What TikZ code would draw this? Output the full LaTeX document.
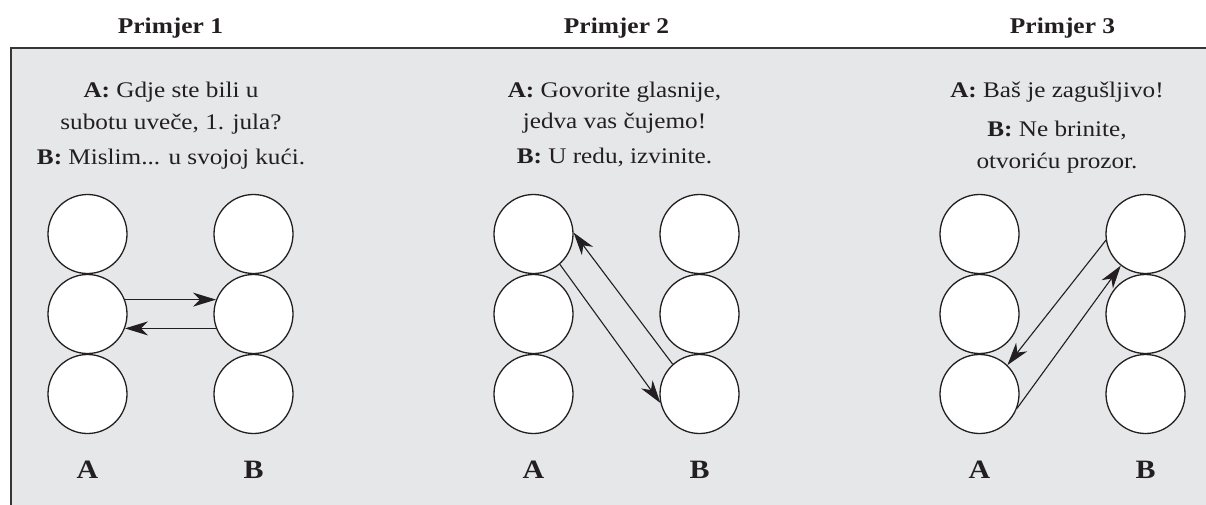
\documentclass[tikz,border=0pt]{standalone}
\usepackage{fontspec}
\setmainfont[FakeStretch=1.13]{Liberation Serif}
\usetikzlibrary{arrows.meta}
\definecolor{boxgray}{HTML}{E6E7E9}
\definecolor{ink}{HTML}{231F20}
\begin{document}
\begin{tikzpicture}[x=1pt,y=-1pt,
  ball/.style={circle,draw=ink,line width=1.3pt,fill=white,minimum size=79pt,inner sep=0pt},
  say/.style={anchor=base,inner sep=0pt,text=ink,font=\fontsize{22.3}{27}\selectfont},
  ttl/.style={anchor=base,inner sep=0pt,text=ink,font=\fontsize{22.5}{26}\selectfont\bfseries},
  lbl/.style={anchor=base,inner sep=0pt,text=ink,font=\fontsize{26.5}{30}\selectfont\bfseries},
  arr/.style={draw=ink,line width=1.1pt,-{Stealth[length=23pt,width=14pt,inset=7pt]}}]
\useasboundingbox (0,0) rectangle (1206,504);
\fill[boxgray] (11,48) rectangle (1230,530);
\draw[ink!90,line width=2.6pt] (1230,48) -- (11,48) -- (11,530);
% titles
\node[ttl] (t1) at (170.5,33) {Primjer 1};
\node[ttl] (t2) at (616.5,33) {Primjer 2};
\node[ttl] (t3) at (1062.5,33) {Primjer 3};
% example 1 texts
\node[say] (s11) at (171,97) {\textbf{A:} Gdje ste bili u};
\node[say] (s12) at (171,129) {subotu uveče, 1. jula?};
\node[say] (s13) at (171,164) {\textbf{B:} Mislim... u svojoj kući.};
% example 2 texts
\node[say] (s21) at (614.5,97) {\textbf{A:} Govorite glasnije,};
\node[say] (s22) at (614.5,128) {jedva vas čujemo!};
\node[say] (s23) at (614.5,163) {\textbf{B:} U redu, izvinite.};
% example 3 texts
\node[say] (s31) at (1057,97) {\textbf{A:} Baš je zagušljivo!};
\node[say] (s32) at (1057,136) {\textbf{B:} Ne brinite,};
\node[say] (s33) at (1057,168) {otvoriću prozor.};
% circles
\foreach \e/\xa/\xb in {1/87.5/253.5, 2/533.5/699.5, 3/979.5/1145.5}{
  \node[ball] (a\e1) at (\xa,234) {};
  \node[ball] (a\e2) at (\xa,314) {};
  \node[ball] (a\e3) at (\xa,394) {};
  \node[ball] (b\e1) at (\xb,234) {};
  \node[ball] (b\e2) at (\xb,314) {};
  \node[ball] (b\e3) at (\xb,394) {};
  \node[lbl] (la\e) at (\xa,478) {A};
  \node[lbl] (lb\e) at (\xb,478) {B};
}
% arrows example 1
\draw[arr] (a12.21) -- (b12.159);
\draw[arr] (b12.201) -- (a12.339);
% arrows example 2
\draw[arr] (a21.-49) -- (b23.-167);
\draw[arr] (b23.132) -- (a21.2);
% arrows example 3
\draw[arr] (b31.-171) -- (a33.46);
\draw[arr] (a33.-21) -- (b31.-128);
\end{tikzpicture}
\end{document}
